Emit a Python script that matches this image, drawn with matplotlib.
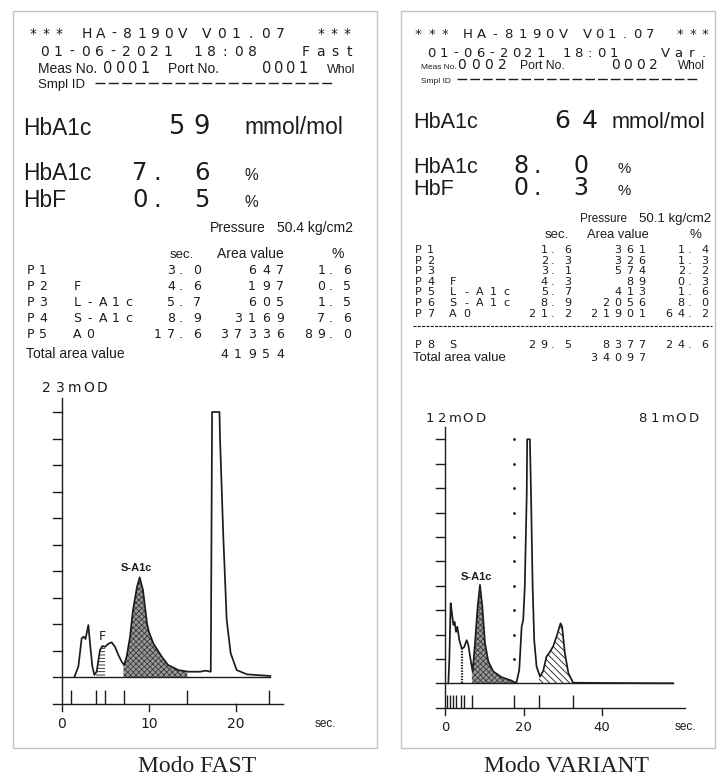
import numpy as np
import matplotlib
matplotlib.use("Agg")
import matplotlib.pyplot as plt
from matplotlib import font_manager as fm
from matplotlib.patches import Rectangle
from matplotlib.transforms import blended_transform_factory

# ---------------- printout values ----------------
model = "HA-8190V"
version = "V01.07"
date = "01-06-2021"

fast_time, var_time = "18:08", "18:01"
fast_mode, var_mode = "Fast", "Var."
fast_meas, var_meas = "0001", "0002"
fast_pressure, var_pressure = 50.4, 50.1
fast_mmol, var_mmol = 59, 64
fast_hba1c, var_hba1c = 7.6, 8.0
fast_hbf, var_hbf = 0.5, 0.3

fast_peak = ["P1", "P2", "P3", "P4", "P5"]
fast_name = ["", "F", "L-A1c", "S-A1c", "A0"]
fast_sec = [3.0, 4.6, 5.7, 8.9, 17.6]
fast_area = [647, 197, 605, 3169, 37336]
fast_pct = [1.6, 0.5, 1.5, 7.6, 89.0]
fast_total = 41954

var_peak = ["P1", "P2", "P3", "P4", "P5", "P6", "P7", "P8"]
var_name = ["", "", "", "F", "L-A1c", "S-A1c", "A0", "S"]
var_sec = [1.6, 2.3, 3.1, 4.3, 5.7, 8.9, 21.2, 29.5]
var_area = [361, 326, 574, 89, 413, 2056, 21901, 8377]
var_pct = [1.4, 1.3, 2.2, 0.3, 1.6, 8.0, 64.2, 24.6]
var_total = 34097

# chromatograms: time (sec) and signal (mOD)
fast_fs = 23
fast_t = [1.42, 1.88, 2.26, 2.5, 2.7, 3.03, 3.22, 3.49, 3.72, 3.98, 4.37, 4.64,
          4.94, 5.33, 5.71, 6.09, 6.48, 6.86, 7.13, 7.43, 7.82, 8.16, 8.62, 8.93,
          9.31, 9.77, 10.0, 10.5, 11.46, 12.2, 13.37, 14.5, 15.9, 16.5, 17.1,
          17.2, 17.25, 18.1, 18.16, 18.54, 18.93, 19.39, 20.08, 21.26, 23.95]
fast_mod = [0.0, 0.9, 3.36, 3.5, 3.3, 4.51, 2.94, 0.9, 0.18, 0.46, 2.35, 2.69,
            2.62, 2.88, 3.01, 2.62, 1.91, 1.33, 1.04, 1.77, 3.5, 5.82, 7.82, 8.65,
            7.54, 4.65, 3.9, 2.92, 1.77, 1.04, 0.6, 0.46, 0.46, 0.55, 0.46,
            15.0, 23.0, 23.0, 20.8, 12.2, 4.95, 2.05, 0.6, 0.23, 0.09]
fast_marks = [1.0, 3.9, 4.95, 7.07, 14.4, 23.8]
fast_ticks = [0, 10, 20]

var_fs_lo, var_fs_hi, var_switch = 12, 81, 17.6
var_t = [0.85, 1.1, 1.44, 1.78, 2.12, 2.46, 2.8, 3.14, 3.65, 4.24, 4.83, 5.51,
         5.94, 6.53, 7.04, 7.63, 8.31, 8.9, 9.5, 10.18, 11.03, 12.3, 14.4, 16.97,
         17.59, 18.2, 18.9, 19.5, 19.9, 20.3, 20.8, 20.9, 21.6, 21.9, 22.3, 22.7,
         23.3, 24.2, 25.0, 25.8, 26.5, 27.5, 28.5, 29.4, 29.8, 30.5, 31.4, 32.6,
         40.0, 58.0]
var_mod = [0.0, 1.14, 3.94, 3.44, 2.87, 3.02, 2.53, 2.78, 2.12, 1.72, 1.76, 2.12,
           1.88, 1.14, 0.58, 1.97, 3.77, 4.84, 3.77, 1.97, 1.07, 0.58, 0.3, 0.13,
           0.05, 0.3, 4.5, 18.8, 21.0, 32.0, 63.0, 81.0, 81.0, 62.0, 32.0, 14.3,
           5.5, 2.2, 4.2, 8.8, 10.0, 12.2, 16.0, 19.9, 18.8, 10.0, 3.3, 0.2,
           0.1, 0.0]
var_marks = [0.5, 1.2, 2.0, 2.7, 4.05, 4.9, 6.85, 17.6, 23.9, 32.6]
var_ticks = [0, 20, 40]

# ---------------- fonts / figure ----------------
W, H = 721, 779
INK = "#1c1c1c"


def has_font(name):
    try:
        fm.findfont(fm.FontProperties(family=name), fallback_to_default=False)
        return True
    except Exception:
        return False


NARROW = "Liberation Sans Narrow" if has_font("Liberation Sans Narrow") else "Liberation Sans"
NS = 1.0 if NARROW == "Liberation Sans Narrow" else 0.8
SANS = "Liberation Sans"
PRN = "DejaVu Sans"

plt.rcParams["hatch.linewidth"] = 0.6
plt.rcParams["lines.scale_dashes"] = False

fig = plt.figure(figsize=(W / 100, H / 100), dpi=100)
ov = fig.add_axes([0, 0, 1, 1])
ov.set_xlim(0, W)
ov.set_ylim(H, 0)
ov.axis("off")


def chars(x, y, s, pitch, size, **kw):
    # printer style: one glyph per cell; x = centre of first cell, y = baseline
    for i, ch in enumerate(s):
        if ch != " ":
            ov.text(x + i * pitch, y, ch, fontsize=size, family=PRN,
                    ha="center", va="baseline", color=INK, **kw)


def number(xr, y, s, pitch, size):
    # right aligned, last digit centred on xr; "3. 0" style with the dot
    # hugging the integer part
    ip, _, fp = s.partition(".")
    cells = []
    x = xr
    for ch in reversed(fp):
        cells.append((x, ch))
        x -= pitch
    if fp:
        xint = x + pitch - 1.9 * pitch
        cells.append((xint + 0.7 * pitch, "."))
        x = xint
    for ch in reversed(ip):
        cells.append((x, ch))
        x -= pitch
    for xx, ch in cells:
        ov.text(xx, y, ch, fontsize=size, family=PRN, ha="center",
                va="baseline", color=INK)


def stext(x, y, s, size, ha="left", family=SANS, **kw):
    ov.text(x, y, s, fontsize=size, family=family, ha=ha, va="baseline",
            color=INK, **kw)


def ntext(x, y, s, size, ha="left"):
    ov.text(x, y, s, fontsize=size * NS, family=NARROW, ha=ha, va="baseline",
            color=INK)


def dashes(x0, x1, y, on, off, lw=1.0):
    ov.plot([x0, x1], [y, y], color=INK, lw=lw, dashes=(on, off),
            solid_capstyle="butt", dash_capstyle="butt")


# paper borders
for x0, x1 in [(13, 377), (401, 715)]:
    ov.add_patch(Rectangle((x0, 11), x1 - x0, 737, fill=False,
                           edgecolor="#c4c4c4", lw=1.0))

# ---------------- FAST printout text ----------------
chars(33, 38, "***", 13.0, 10)
chars(87, 38, model, 13.6, 10)
chars(207, 38, version, 14.6, 10)
chars(321, 38, "***", 13.0, 10)
chars(44.5, 56, date, 13.7, 10)
chars(197.5, 56, fast_time, 13.75, 10)
chars(306, 56, fast_mode, 14.3, 10)
stext(38, 72.5, "Meas No.", 10)
chars(108, 72.5, fast_meas, 12.3, 10.5)
stext(168, 72.5, "Port No.", 10)
chars(267, 72.5, fast_meas, 12.0, 10.5)
stext(327, 72.5, "Whol", 9)
stext(38, 87.5, "Smpl ID", 9.5)
dashes(95, 335, 83, 7.2, 2.4)

ntext(23, 135, "HbA1c", 20.5)
for xc, ch in zip([176, 202], str(fast_mmol)):
    stext(xc, 134, ch, 18.5, ha="center", family=PRN)
ntext(244, 134, "mmol/mol", 20.5)
for yb, lab, val in [(180, "HbA1c", fast_hba1c), (207, "HbF", fast_hbf)]:
    ntext(23, yb, lab, 20.5)
    ip, fp = f"{val:.1f}".split(".")
    stext(140, yb, ip, 17.5, ha="center", family=PRN)
    stext(157, yb, ".", 17.5, ha="center", family=PRN)
    stext(202, yb, fp, 17.5, ha="center", family=PRN)
    ntext(251, yb, "%", 14, ha="center")

stext(210, 232, "Pressure", 10)
stext(353, 232, f"{fast_pressure:.1f} kg/cm2", 10, ha="right")
stext(170, 258, "sec.", 9.5)
stext(217, 258, "Area value", 10)
stext(338, 258, "%", 10, ha="center")
for i, yb in enumerate([274, 290, 306, 322, 338]):
    chars(30, yb, fast_peak[i], 13.0, 9)
    chars(77, yb, fast_name[i], 13.0, 9)
    number(197, yb, f"{fast_sec[i]:.1f}", 13.5, 9)
    number(280, yb, str(fast_area[i]), 14.0, 9)
    number(347, yb, f"{fast_pct[i]:.1f}", 13.5, 9)
stext(26, 358, "Total area value", 10)
number(280, 358, str(fast_total), 14.0, 9)
chars(46.5, 392, f"{fast_fs}mOD", 14.0, 10)

# ---------------- VARIANT printout text ----------------
chars(418, 38, "***", 13.5, 9.5)
chars(468, 38, model, 13.6, 9.5)
chars(587, 38, version, 12.6, 9.5)
chars(680, 38, "***", 12.5, 9.5)
chars(431.5, 56.5, date, 12.1, 9.5)
chars(566.5, 56.5, var_time, 11.75, 9.5)
chars(665, 56.5, var_mode, 13.0, 9.5)
stext(421, 69, "Meas No.", 6)
chars(462, 69, var_meas, 13.3, 10)
stext(520, 69, "Port No.", 8.8)
chars(615, 69, var_meas, 12.7, 10)
stext(678, 69, "Whol", 8.5)
stext(421, 83, "Smpl ID", 6)
dashes(457, 697, 79, 7.0, 2.2)

ntext(413, 128, "HbA1c", 19.5)
for xc, ch in zip([562, 590], str(var_mmol)):
    stext(xc, 128, ch, 18, ha="center", family=PRN)
ntext(612, 128, "mmol/mol", 19.5)
for yb, lab, val in [(173, "HbA1c", var_hba1c), (195, "HbF", var_hbf)]:
    ntext(413, yb, lab, 19.5)
    ip, fp = f"{val:.1f}".split(".")
    stext(521, yb, ip, 17, ha="center", family=PRN)
    stext(537, yb, ".", 17, ha="center", family=PRN)
    stext(581, yb, fp, 17, ha="center", family=PRN)
    ntext(624, yb, "%", 13.5, ha="center")

stext(580, 222, "Pressure", 8.5)
stext(711, 222, f"{var_pressure:.1f} kg/cm2", 9.5, ha="right")
stext(545, 238, "sec.", 9.5)
stext(587, 238, "Area value", 9.3)
stext(695, 238, "%", 9.5, ha="center")
rows = [253, 263.6, 274.2, 284.8, 295.4, 306, 316.6, 348.3]
for i, yb in enumerate(rows):
    chars(418, yb, var_peak[i], 12.5, 8)
    chars(453, yb, var_name[i], 13.3, 8)
    number(568, yb, f"{var_sec[i]:.1f}", 12.5, 8)
    number(642, yb, str(var_area[i]), 12.0, 8)
    number(705, yb, f"{var_pct[i]:.1f}", 12.5, 8)
dashes(413, 712, 326, 2.2, 0.9, lw=0.8)
stext(413, 360.7, "Total area value", 9.5)
number(642, 360.7, str(var_total), 12.0, 8)
chars(429.5, 422, f"{var_fs_lo}mOD", 12.75, 9.5)
chars(642.5, 422, f"{var_fs_hi}mOD", 12.75, 9.5)

# captions
for xc, cap in [(197, "Modo FAST"), (567, "Modo VARIANT")]:
    ov.text(xc, 772, cap, fontsize=17, family="Liberation Serif",
            ha="center", va="baseline", color="#222222")


# ---------------- chromatograms ----------------
def chart_axes(x0, y0, sx, sy, rect):
    # x0,y0: pixel of t=0 / signal 0; sx px per sec; sy px per % full scale
    l, t, r, b = rect
    ax = fig.add_axes([l / W, 1 - b / H, (r - l) / W, (b - t) / H])
    ax.set_xlim((l - x0) / sx, (r - x0) / sx)
    ax.set_ylim((y0 - b) / sy, (y0 - t) / sy)
    ax.axis("off")
    return ax


def segment(t, y, a, b):
    t = np.asarray(t)
    y = np.asarray(y)
    inside = (t > a) & (t < b)
    ts = np.concatenate([[a], t[inside], [b]])
    ys = np.concatenate([[np.interp(a, t, y)], y[inside], [np.interp(b, t, y)]])
    return ts, ys


def frame(ax, ticks, tick_x, base_end, axis_end, marks):
    lw = 1.0
    ax.plot([0, 0], [-13, 105.2], color=INK, lw=lw)
    for k in range(0, 101, 10):
        ax.plot([tick_x, 0], [k, k], color=INK, lw=lw)
    ax.plot([0, base_end], [0, 0], color=INK, lw=lw)
    ax.plot([tick_x, axis_end], [-10, -10], color=INK, lw=lw)
    for xt in ticks[1:]:
        ax.plot([xt, xt], [-10, -13], color=INK, lw=lw)
    ax.vlines(marks, -10, -4.9, color=INK, lw=lw)


# FAST
axF = chart_axes(62, 677, 8.7, 2.65, (40, 390, 345, 738))
f_t = np.array(fast_t)
f_y = np.array(fast_mod) / fast_fs * 100
frame(axF, fast_ticks, -1.03, 23.9, 25.4, fast_marks)
ts, ys = segment(f_t, f_y, 3.9, 4.95)
axF.fill_between(ts, 0, ys, facecolor="white", edgecolor=INK, hatch="-----", lw=0)
ts, ys = segment(f_t, f_y, 7.07, 14.4)
axF.fill_between(ts, 0, ys, facecolor="#9a9a9a", edgecolor="#3a3a3a",
                 hatch="xxxxxx", lw=0)
axF.plot(f_t, f_y, color=INK, lw=1.25, zorder=4)
trF = blended_transform_factory(axF.transData, ov.transData)
for xt in fast_ticks:
    axF.text(xt, 728, str(xt), transform=trF, fontsize=10, family=PRN,
             ha="center", va="baseline", color=INK)
axF.text(8.6, 571, "S-A1c", transform=trF, fontsize=8, family=SANS,
         weight="bold", ha="center", va="baseline", color=INK)
axF.text(4.6, 640, "F", transform=trF, fontsize=9, family=PRN,
         ha="center", va="baseline", color=INK)
stext(315, 727, "sec.", 8.5)

# VARIANT
axV = chart_axes(445, 683.3, 3.93, 2.44, (425, 420, 715, 742))
v_t = np.array(var_t)
v_fs = np.where(v_t < var_switch, var_fs_lo, var_fs_hi)
v_y = np.array(var_mod) / v_fs * 100
frame(axV, var_ticks, -2.29, 58.0, 61.1, var_marks)
ts, ys = segment(v_t, v_y, 6.85, 17.4)
axV.fill_between(ts, 0, ys, facecolor="#9a9a9a", edgecolor="#3a3a3a",
                 hatch="xxxxxx", lw=0)
ts, ys = segment(v_t, v_y, 23.9, 32.6)
axV.fill_between(ts, 0, ys, facecolor="white", edgecolor=INK,
                 hatch="\\\\\\\\\\", lw=0)
f_x = 4.4
axV.plot([f_x, f_x], [0, np.interp(f_x, v_t, v_y)], color=INK, lw=1.6,
         ls=(0, (1, 1)))
axV.plot([var_switch] * 10, np.arange(10, 101, 10), "o", color=INK, ms=1.0)
axV.plot(v_t, v_y, color=INK, lw=1.25, zorder=4)
trV = blended_transform_factory(axV.transData, ov.transData)
for xt in var_ticks:
    axV.text(xt, 731, str(xt), transform=trV, fontsize=9.5, family=PRN,
             ha="center", va="baseline", color=INK)
axV.text(8.1, 580, "S-A1c", transform=trV, fontsize=8, family=SANS,
         weight="bold", ha="center", va="baseline", color=INK)
stext(675, 730, "sec.", 8.5)

fig.savefig("out.png", dpi=100)
